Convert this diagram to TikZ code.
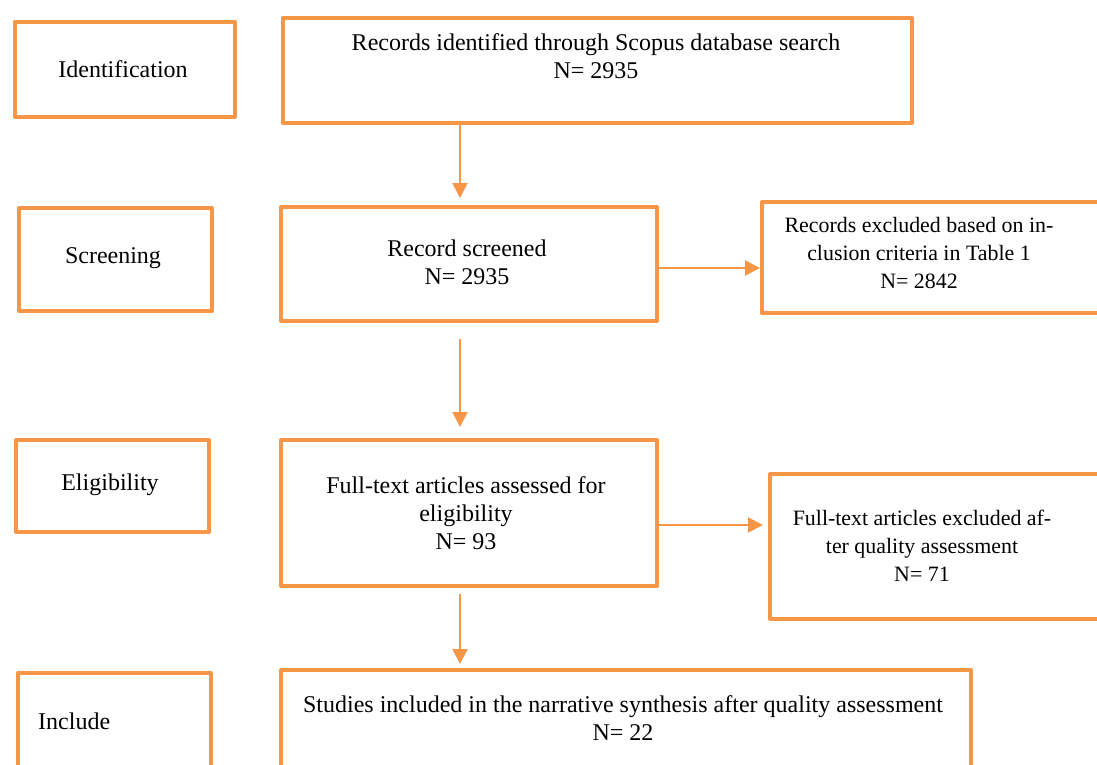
\documentclass[tikz,border=0pt]{standalone}
\usepackage{fontspec}
\setmainfont{Liberation Serif}
\usetikzlibrary{arrows.meta}
\definecolor{flow}{HTML}{F79646}
\tikzset{
  box/.style={draw=flow, line width=4pt, line join=round, inner sep=0pt, anchor=north west},
  txt/.style={align=center, inner sep=0pt, font=\fontsize{24}{28}\selectfont},
  txtsmall/.style={align=center, inner sep=0pt, font=\fontsize{21.9}{28}\selectfont},
  arr/.style={draw=flow, line width=2pt, -{Triangle[width=15pt,length=15pt]}}
}
\begin{document}
\begin{tikzpicture}[x=1pt,y=-1pt]
\useasboundingbox (0,0) rectangle (1097,765);
\clip (0,0) rectangle (1097,765);
% boxes (center-line geometry)
\node[box, minimum width=220, minimum height=95]  (ident) at (13,20) {};
\node[box, minimum width=629, minimum height=105] (top)   at (281,16) {};
\node[box, minimum width=193, minimum height=103] (scr)   at (17,206) {};
\node[box, minimum width=376, minimum height=114] (rs)    at (279,205) {};
\node[box, minimum width=360, minimum height=111] (ex1)   at (760,200) {};
\node[box, minimum width=193, minimum height=92]  (elig)  at (14,438) {};
\node[box, minimum width=376, minimum height=146] (ft)    at (279,438) {};
\node[box, minimum width=360, minimum height=145] (ex2)   at (768,472) {};
\node[box, minimum width=193, minimum height=130] (incl)  at (16,671) {};
\node[box, minimum width=690, minimum height=130] (fin)   at (279,668) {};
% texts
\node[txt] (tident) at (123,69)  {Identification};
\node[txt] (ttop)   at (596,56)  {Records identified through Scopus database search\\N= 2935};
\node[txt] (tscr)   at (113,258) {Screening};
\node[txt] (trs)    at (467,262) {Record screened\\N= 2935};
\node[txtsmall] (tex1) at (919,253) {Records excluded based on in-\\clusion criteria in Table 1\\N= 2842};
\node[txt] (telig)  at (110,485) {Eligibility};
\node[txt] (tft)    at (466,513) {Full-text articles assessed for\\eligibility\\N= 93};
\node[txtsmall] (tex2) at (922,546) {Full-text articles excluded af-\\ter quality assessment\\N= 71};
\node[txt, anchor=west] (tincl) at (38,721) {Include};
\node[txt] (tfin)   at (623,718) {Studies included in the narrative synthesis after quality assessment\\N= 22};
% connectors
\coordinate (ax) at (460,0);
\draw[arr, shorten >=7pt] (top.south -| ax) -- (rs.north -| ax);
\draw[arr, shorten <=16pt, shorten >=11pt] (rs.south -| ax) -- (ft.north -| ax);
\draw[arr, shorten <=6pt, shorten >=4pt] (ft.south -| ax) -- (fin.north -| ax);
\draw[arr] (rs.east |- 0,268) -- (ex1.west |- 0,268);
\draw[arr, shorten >=5pt] (ft.east |- 0,525) -- (ex2.west |- 0,525);
\end{tikzpicture}
\end{document}
